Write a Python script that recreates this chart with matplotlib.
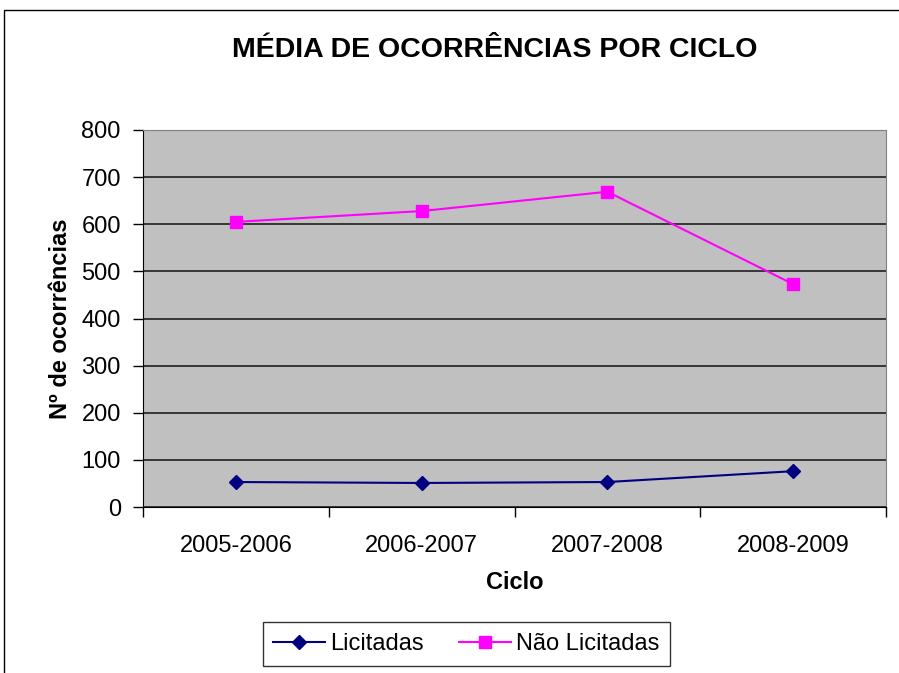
import numpy as np
import matplotlib.pyplot as plt
from matplotlib.patches import Rectangle

plt.rcParams['font.family'] = ['Liberation Sans', 'DejaVu Sans']

ciclos = ['2005-2006', '2006-2007', '2007-2008', '2008-2009']
licitadas = [53, 51, 53, 76]
nao_licitadas = [605, 628, 669, 473]
yticks = [0, 100, 200, 300, 400, 500, 600, 700, 800]

fig = plt.figure(figsize=(8.99, 6.73), dpi=100)
ax = fig.add_axes([143/899, 1-507/673, (886-143)/899, (507-130)/673])

# outer chart frame
fig.patches.append(Rectangle((4/899, -0.01), 1.2, 1-10/673+0.01, transform=fig.transFigure,
                             fill=False, edgecolor='black', linewidth=1))

x = np.arange(len(ciclos))
ax.set_facecolor('#C0C0C0')
ax.plot(x, licitadas, color='#000080', marker='D', markersize=7.5, linewidth=1.5, label='Licitadas')
ax.plot(x, nao_licitadas, color='#FF00FF', marker='s', markersize=8, linewidth=1.5, label='Não Licitadas')

ax.set_xlim(-0.5, len(ciclos) - 0.5)
ax.set_ylim(0, 800)
ax.set_yticks(yticks)
ax.yaxis.grid(True, color='#202020', linewidth=1.2)
ax.set_axisbelow(True)

ax.set_xticks(x)
ax.set_xticklabels(ciclos)
ax.set_xticks(np.arange(-0.5, len(ciclos)), minor=True)
ax.tick_params(axis='x', which='major', length=0, pad=20.5, labelsize=17)
ax.tick_params(axis='x', which='minor', length=7, width=1, color='black')
ax.tick_params(axis='y', length=7, width=1, labelsize=17, pad=9)

for s in ['top', 'right']:
    ax.spines[s].set_color('#808080')
ax.spines['left'].set_color('black')
ax.spines['bottom'].set_color('black')

ax.set_xlabel('Ciclo', fontsize=17, fontweight='bold', labelpad=10)
ax.set_ylabel('Nº de ocorrências', fontsize=17, fontweight='bold', labelpad=7)

fig.text(495/899, 1-50/673, 'MÉDIA DE OCORRÊNCIAS POR CICLO', ha='center', va='center',
         fontsize=20.5, fontweight='bold')

leg = fig.legend(loc='center', bbox_to_anchor=(466/899, 1-644/673), ncol=2, fontsize=17,
                 frameon=True, fancybox=False, edgecolor='black', handlelength=2.2,
                 columnspacing=1.5, handletextpad=0.2, borderpad=0.45)
leg.get_frame().set_linewidth(1)

fig.savefig('out.png', dpi=100)
